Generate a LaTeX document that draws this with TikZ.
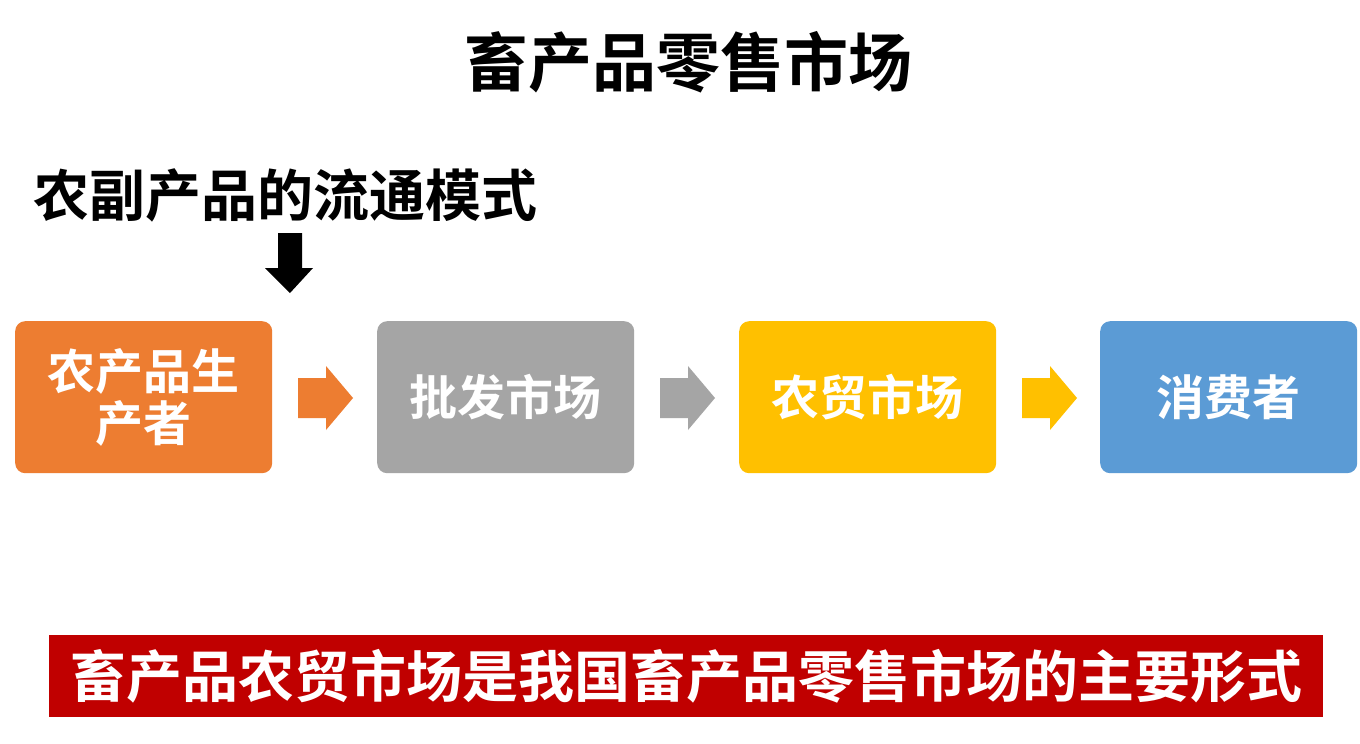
\documentclass[tikz,border=0pt]{standalone}
\usepackage{fontspec}
\newfontfamily\cjk{Noto Sans CJK SC}[BoldFont={Noto Sans CJK SC Bold}]
\definecolor{corange}{HTML}{ED7D31}
\definecolor{cgray}{HTML}{A5A5A5}
\definecolor{cyellow}{HTML}{FFC000}
\definecolor{cblue}{HTML}{5B9BD5}
\definecolor{cred}{HTML}{C00000}
\tikzset{
  stagebox/.style={draw=none,rounded corners=10pt,minimum width=257pt,minimum height=152pt,
    anchor=north west,inner sep=0pt,text=white,align=center,
    font=\cjk\bfseries\fontsize{48}{56}\selectfont},
  blockarrow/.style={draw=none},
}
\begin{document}
\begin{tikzpicture}[x=1pt,y=-1pt]
\useasboundingbox (0,0) rectangle (1360,744);
\fill[white] (0,0) rectangle (1360,744);
\node[font=\cjk\bfseries\fontsize{64}{70}\selectfont] (title) at (688,62) {畜产品零售市场};
\node[font=\cjk\bfseries\fontsize{56}{62}\selectfont,anchor=west,inner sep=0pt] (sub) at (33,195) {农副产品的流通模式};
\coordinate (ar) at (290,233);
\fill[black] (278,233) -- (302,233) -- (302,268) -- (313,268) -- (290,293) -- (265,268) -- (278,268) -- cycle;
\node[stagebox,fill=corange] (b1) at (15,321) {农产品生\\[-4pt]产者};
\node[stagebox,fill=cgray] (b2) at (377,321) {批发市场};
\node[stagebox,fill=cyellow] (b3) at (739,321) {农贸市场};
\node[stagebox,fill=cblue] (b4) at (1100,321) {消费者};
\foreach \x/\c in {298/corange,660/cgray,1022/cyellow}{
  \fill[\c] (\x,378) -- (\x+28,378) -- (\x+28,366) -- (\x+55,398) -- (\x+28,430) -- (\x+28,418) -- (\x,418) -- cycle;
}
\node[fill=cred,minimum width=1274pt,minimum height=82pt,anchor=north west,inner sep=0pt,
  text=white,font=\cjk\bfseries\fontsize{56}{62}\selectfont] (bar) at (49,635) {畜产品农贸市场是我国畜产品零售市场的主要形式};
\end{tikzpicture}
\end{document}
